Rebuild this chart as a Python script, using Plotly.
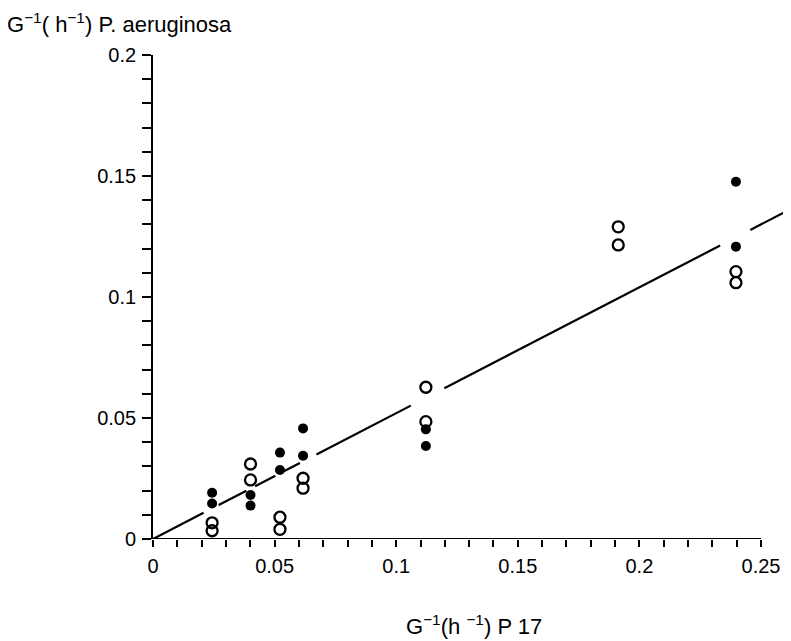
import plotly.graph_objects as go

# ---- data ----
filled_x = [0.0243, 0.0243, 0.0401, 0.0401, 0.0522, 0.0522, 0.0617, 0.0617,
            0.1122, 0.1122, 0.2397, 0.2397]
filled_y = [0.0191, 0.0147, 0.0182, 0.0138, 0.0357, 0.0285, 0.0457, 0.0344,
            0.0453, 0.0384, 0.1476, 0.1208]

open_x = [0.0243, 0.0243, 0.0401, 0.0401, 0.0522, 0.0522, 0.0617, 0.0617,
          0.1122, 0.1122, 0.1913, 0.1913, 0.2397, 0.2397]
open_y = [0.0067, 0.0034, 0.0310, 0.0244, 0.0090, 0.0040, 0.0251, 0.0210,
          0.0627, 0.0485, 0.1290, 0.1215, 0.1105, 0.1059]

line_slope = 0.52
# visible pieces of the broken regression line (x start, x end)
line_pieces = [(0.0, 0.0208), (0.027, 0.0384), (0.042, 0.0503), (0.0538, 0.0604),
               (0.0672, 0.106), (0.1198, 0.2332), (0.2456, 0.27)]

x_tick_vals = [0.0, 0.05, 0.1, 0.15, 0.2, 0.25]
x_tick_text = ["0", "0.05", "0.1", "0.15", "0.2", "0.25"]
x_minor_vals = [0.01, 0.02, 0.03, 0.04, 0.06, 0.07, 0.08, 0.09, 0.11, 0.12,
                0.13, 0.14, 0.16, 0.17, 0.18, 0.19, 0.21, 0.22, 0.23, 0.24]
y_tick_vals = [0.0, 0.05, 0.1, 0.15, 0.2]
y_tick_text = ["0", "0.05", "0.1", "0.15", "0.2"]
y_minor_vals = [0.01, 0.02, 0.03, 0.04, 0.06, 0.07, 0.08, 0.09, 0.11, 0.12,
                0.13, 0.14, 0.16, 0.17, 0.18, 0.19]

y_title = "G<sup>−1</sup>( h<sup>−1</sup>) P. aeruginosa"
x_title = "G<sup>−1</sup>(h <sup>−1</sup>) P 17"

FONT = "Liberation Sans, Arial, sans-serif"

# ---- build line with gaps ----
lx, ly = [], []
for a, b in line_pieces:
    lx += [a, b, None]
    ly += [line_slope * a, line_slope * b, None]

fig = go.Figure()
fig.add_trace(go.Scatter(x=lx, y=ly, mode="lines",
                         line=dict(color="black", width=2.2),
                         hoverinfo="skip", showlegend=False))
fig.add_trace(go.Scatter(x=open_x, y=open_y, mode="markers",
                         marker=dict(symbol="circle-open", size=11, color="black",
                                     line=dict(width=2.3, color="black")),
                         showlegend=False, cliponaxis=False))
fig.add_trace(go.Scatter(x=filled_x, y=filled_y, mode="markers",
                         marker=dict(symbol="circle", size=10, color="black"),
                         showlegend=False, cliponaxis=False))

# page has an 8px body margin; figure coordinates = page coordinates - 8
OFF = 8
W, H = 791 - OFF, 641 - OFF
L = 153 - OFF
T = 55 - OFF
bottom = 539 - OFF
B = H - bottom
R = 0
plot_w = W - L - R
plot_h = bottom - T
x_max = 0.25 * plot_w / (761 - 153)

fig.update_layout(
    width=W, height=H,
    margin=dict(l=L, r=R, t=T, b=B, pad=0),
    paper_bgcolor="white", plot_bgcolor="white",
    font=dict(family=FONT, size=20, color="black"),
    xaxis=dict(range=[0, x_max], showgrid=False, zeroline=False, showline=False,
               tickmode="array", tickvals=x_tick_vals, ticktext=x_tick_text,
               ticks="outside", ticklen=7, tickwidth=1.6, tickcolor="black",
               ticklabelstandoff=2,
               minor=dict(tickmode="array", tickvals=x_minor_vals, ticks="outside",
                          ticklen=7, tickwidth=1.6, tickcolor="black", showgrid=False),
               tickfont=dict(family=FONT, size=20, color="black")),
    yaxis=dict(range=[0, 0.2], showgrid=False, zeroline=False, showline=True,
               linecolor="black", linewidth=1.8,
               tickmode="array", tickvals=y_tick_vals, ticktext=y_tick_text,
               ticks="outside", ticklen=9, tickwidth=1.6, tickcolor="black",
               ticklabelstandoff=2,
               minor=dict(tickmode="array", tickvals=y_minor_vals, ticks="outside",
                          ticklen=9, tickwidth=1.6, tickcolor="black", showgrid=False),
               tickfont=dict(family=FONT, size=20, color="black")),
    shapes=[dict(type="line", xref="x", yref="y", x0=0, x1=0.25, y0=0, y1=0,
                 line=dict(color="black", width=1.8))],
    annotations=[
        dict(text=y_title, xref="paper", yref="paper",
             x=(5 - 153) / plot_w, y=(539 - 23) / plot_h,
             xanchor="left", yanchor="middle", showarrow=False,
             font=dict(family=FONT, size=22, color="black")),
        dict(text=x_title, xref="paper", yref="paper",
             x=(474 - 153) / plot_w, y=(539 - 625) / plot_h,
             xanchor="center", yanchor="middle", showarrow=False,
             font=dict(family=FONT, size=22, color="black")),
    ],
)

fig.write_html("out.html")
